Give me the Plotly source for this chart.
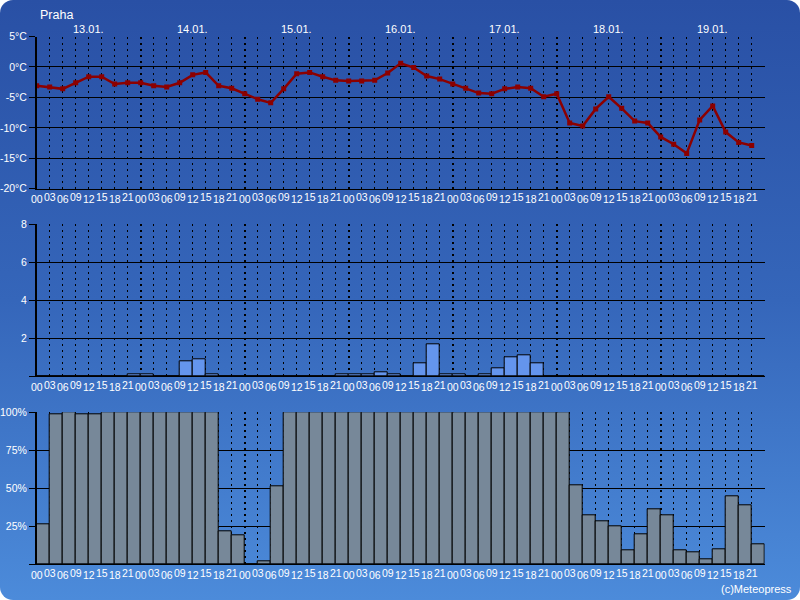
import base64
import plotly.graph_objects as go

# ---------------- data ----------------
hour_labels = ["00", "03", "06", "09", "12", "15", "18", "21"]
date_labels = ["13.01.", "14.01.", "15.01.", "16.01.", "17.01.", "18.01.", "19.01."]

temperature = [-3.1, -3.3, -3.6, -2.6, -1.6, -1.6, -2.8, -2.6, -2.6, -3.1,
               -3.3, -2.6, -1.3, -0.9, -3.1, -3.5, -4.4, -5.3, -5.9, -3.6,
               -1.1, -0.9, -1.6, -2.2, -2.3, -2.3, -2.2, -1.0, 0.6, -0.1,
               -1.5, -2.0, -2.8, -3.5, -4.3, -4.4, -3.6, -3.3, -3.5, -4.9,
               -4.4, -9.2, -9.7, -6.9, -4.9, -6.8, -8.9, -9.2, -11.5, -12.7,
               -14.2, -8.7, -6.4, -10.7, -12.4, -12.9]

precipitation = [0, 0, 0, 0, 0, 0, 0, 0.1, 0.1, 0,
                 0, 0.8, 0.9, 0.1, 0, 0, 0, 0, 0, 0,
                 0, 0, 0, 0.1, 0.1, 0.1, 0.2, 0.1, 0, 0.7,
                 1.7, 0.1, 0.1, 0, 0.1, 0.4, 1.0, 1.1, 0.7, 0,
                 0, 0, 0, 0, 0, 0, 0, 0, 0, 0,
                 0, 0, 0, 0, 0, 0]

cloud_cover = [26, 99, 100, 99, 99, 100, 100, 100, 100, 100,
               100, 100, 100, 100, 22, 19, 0, 2, 51, 100,
               100, 100, 100, 100, 100, 100, 100, 100, 100, 100,
               100, 100, 100, 100, 100, 100, 100, 100, 100, 100,
               100, 52, 32, 28, 25, 9, 20, 36, 32, 9,
               8, 3, 10, 45, 39, 13]

temp_ticks = [5, 0, -5, -10, -15, -20]
temp_ticktext = ["5°C", "0°C", "-5°C", "-10°C", "-15°C", "-20°C"]
precip_ticks = [0, 2, 4, 6, 8]
precip_ticktext = ["", "2", "4", "6", "8"]
cloud_ticks = [0, 25, 50, 75, 100]
cloud_ticktext = ["", "25%", "50%", "75%", "100%"]

n = len(temperature)
idx = list(range(n))
bar_x = [i + 0.5 for i in idx]

FONT = "Liberation Sans, Arial, sans-serif"

# ---------------- background (gradient, rounded) ----------------
svg = ("<svg xmlns='http://www.w3.org/2000/svg' width='800' height='600'>"
       "<defs><linearGradient id='g' x1='0' y1='0' x2='0' y2='1'>"
       "<stop offset='0' stop-color='#2950a5'/>"
       "<stop offset='0.5' stop-color='#3566ba'/>"
       "<stop offset='1' stop-color='#4c8bda'/>"
       "</linearGradient></defs>"
       "<rect x='0' y='0' width='800' height='600' rx='13' ry='13' fill='url(#g)'/></svg>")
bg_src = "data:image/svg+xml;base64," + base64.b64encode(svg.encode()).decode()

fig = go.Figure()

fig.add_trace(go.Scatter(
    x=idx, y=temperature, mode="lines+markers",
    line=dict(color="#8c0000", width=2.5),
    marker=dict(symbol="square", size=5, color="#8c0000"),
    xaxis="x", yaxis="y", hoverinfo="skip", showlegend=False))

fig.add_trace(go.Bar(
    x=bar_x, y=precipitation, width=1,
    marker=dict(color="#6495ed", line=dict(color="black", width=1)),
    xaxis="x2", yaxis="y2", hoverinfo="skip", showlegend=False))

fig.add_trace(go.Bar(
    x=bar_x, y=cloud_cover, width=1,
    marker=dict(color="#778899", line=dict(color="black", width=1)),
    xaxis="x3", yaxis="y3", hoverinfo="skip", showlegend=False))

x_dom = [36.7 / 800, 764.7 / 800]
panels = {
    "": ([1 - 188.7 / 600, 1 - 36.5 / 600], [-20, 5], temp_ticks, temp_ticktext),
    "2": ([1 - 376.3 / 600, 1 - 224.3 / 600], [0, 8], precip_ticks, precip_ticktext),
    "3": ([1 - 564.3 / 600, 1 - 412.3 / 600], [0, 100], cloud_ticks, cloud_ticktext),
}

day_starts = [8 * d for d in range(1, len(date_labels))]
minor_vals = [i for i in range(1, n)]

layout_axes = {}
for k, (ydom, yr, tv, tt) in panels.items():
    layout_axes["xaxis" + k] = dict(
        domain=x_dom, range=[0, n], anchor="y" + k,
        showline=True, linecolor="black", linewidth=1,
        showticklabels=False, ticks="", automargin=False,
        tickmode="array", tickvals=day_starts,
        showgrid=True, gridcolor="black", gridwidth=2, griddash="2px,4px",
        minor=dict(tickmode="array", tickvals=minor_vals, showgrid=True,
                   gridcolor="black", gridwidth=1, griddash="2px,4px", ticks=""),
        zeroline=False, fixedrange=True)
    layout_axes["yaxis" + k] = dict(
        domain=ydom, range=yr, anchor="x" + k,
        showline=True, linecolor="black", linewidth=1.5,
        tickmode="array", tickvals=tv, ticktext=tt, automargin=False,
        ticks="outside", ticklen=6, tickcolor="black", tickwidth=1,
        tickfont=dict(family=FONT, size=10.5, color="white"),
        showgrid=True, gridcolor="black", gridwidth=1,
        zeroline=False, fixedrange=True)

annotations = []
for k in ["", "2", "3"]:
    for i in idx:
        annotations.append(dict(
            text=hour_labels[i % 8], x=i, xref="x" + k, y=0, yref="y" + k + " domain",
            xanchor="center", yanchor="top", showarrow=False,
            yshift=-2.5 if i % 2 == 0 else -0.5,
            font=dict(family=FONT, size=10.5, color="white")))

for d, lab in enumerate(date_labels):
    annotations.append(dict(
        text=lab, x=8 * d + 4, xref="x", y=1, yref="y domain",
        xanchor="center", yanchor="bottom", showarrow=False, yshift=-1,
        font=dict(family=FONT, size=11, color="white")))

annotations.append(dict(
    text="Praha", x=38 / 800, y=1 - 6 / 600, xref="paper", yref="paper",
    xanchor="left", yanchor="top", showarrow=False,
    font=dict(family=FONT, size=12.5, color="white")))
annotations.append(dict(
    text="(c)Meteopress", x=794 / 800, y=1 - 597 / 600, xref="paper", yref="paper",
    xanchor="right", yanchor="bottom", showarrow=False,
    font=dict(family=FONT, size=11, color="white")))

fig.update_layout(
    template="none",
    width=800, height=600,
    margin=dict(l=0, r=0, t=0, b=0, pad=0, autoexpand=False),
    paper_bgcolor="white", plot_bgcolor="rgba(0,0,0,0)",
    barmode="overlay", bargap=0,
    images=[dict(source=bg_src, xref="paper", yref="paper", x=0, y=1,
                 sizex=1, sizey=1, sizing="stretch", xanchor="left",
                 yanchor="top", layer="below")],
    annotations=annotations,
    **layout_axes)

post = ("document.body.style.margin='0';"
        "var gd=document.getElementById('{plot_id}');"
        "gd.style.position='absolute';gd.style.left='0px';gd.style.top='0px';")

fig.write_html("out.html", config={"displayModeBar": False}, post_script=post)
